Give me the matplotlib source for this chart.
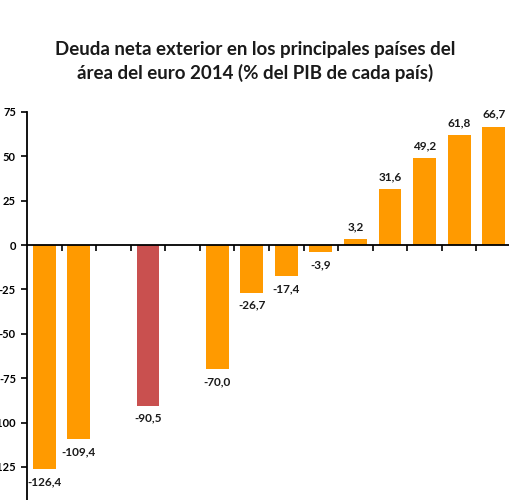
import numpy as np
import matplotlib
matplotlib.use("Agg")
import matplotlib.pyplot as plt

plt.rcParams['font.family'] = ['Lato', 'DejaVu Sans']

# 14 huecos en el eje; dos de ellos sin dato
valores = [-126.4, -109.4, np.nan, -90.5, np.nan, -70.0, -26.7, -17.4,
           -3.9, 3.2, 31.6, 49.2, 61.8, 66.7]
destacado = 3  # barra en rojo
y_ticks = [75, 50, 25, 0, -25, -50, -75, -100, -125]

naranja = '#FF9A00'
rojo = '#C9504F'

x = np.arange(1, len(valores) + 1)
colores = [rojo if i == destacado else naranja for i in range(len(valores))]

fig = plt.figure(figsize=(5.1, 5.0), dpi=100)
ax = fig.add_axes([27 / 510, 0.0, 484 / 510, 388 / 500])

ax.bar(x, valores, width=0.66, color=colores, zorder=2)

for xi, v in zip(x, valores):
    if np.isnan(v):
        continue
    txt = f"{v:.1f}".replace('.', ',')
    if v >= 0:
        ax.annotate(txt, (xi, v), xytext=(0, 5), textcoords='offset points',
                    ha='center', va='bottom', fontsize=8.5, fontweight='bold',
                    color='#1a1a1a')
    else:
        ax.annotate(txt, (xi, v), xytext=(0, -5), textcoords='offset points',
                    ha='center', va='top', fontsize=8.5, fontweight='bold',
                    color='#1a1a1a')

ax.set_xlim(0.5, len(valores) + 0.5)
ax.set_ylim(-143.6, 75)

for s in ['top', 'right']:
    ax.spines[s].set_visible(False)
ax.spines['bottom'].set_position(('data', 0))
ax.spines['bottom'].set_linewidth(1.3)
ax.spines['left'].set_linewidth(1.3)
ax.spines['bottom'].set_zorder(3)

ax.set_xticks(x[:-1] + 0.5)
ax.set_xticklabels([])
ax.tick_params(axis='x', direction='out', length=4, width=1.2)
ax.set_yticks(y_ticks)
ax.set_yticklabels([str(t) for t in y_ticks], fontsize=8, fontweight='bold')
ax.tick_params(axis='y', direction='out', length=4, width=1.2, pad=4)

fig.text(0.5, 0.877, "Deuda neta exterior en los principales países del\n"
         "área del euro 2014 (% del PIB de cada país)",
         ha='center', va='center', fontsize=13.5, fontweight='bold',
         color='#1a1a1a', linespacing=1.45)

fig.savefig('out.png', dpi=100)
